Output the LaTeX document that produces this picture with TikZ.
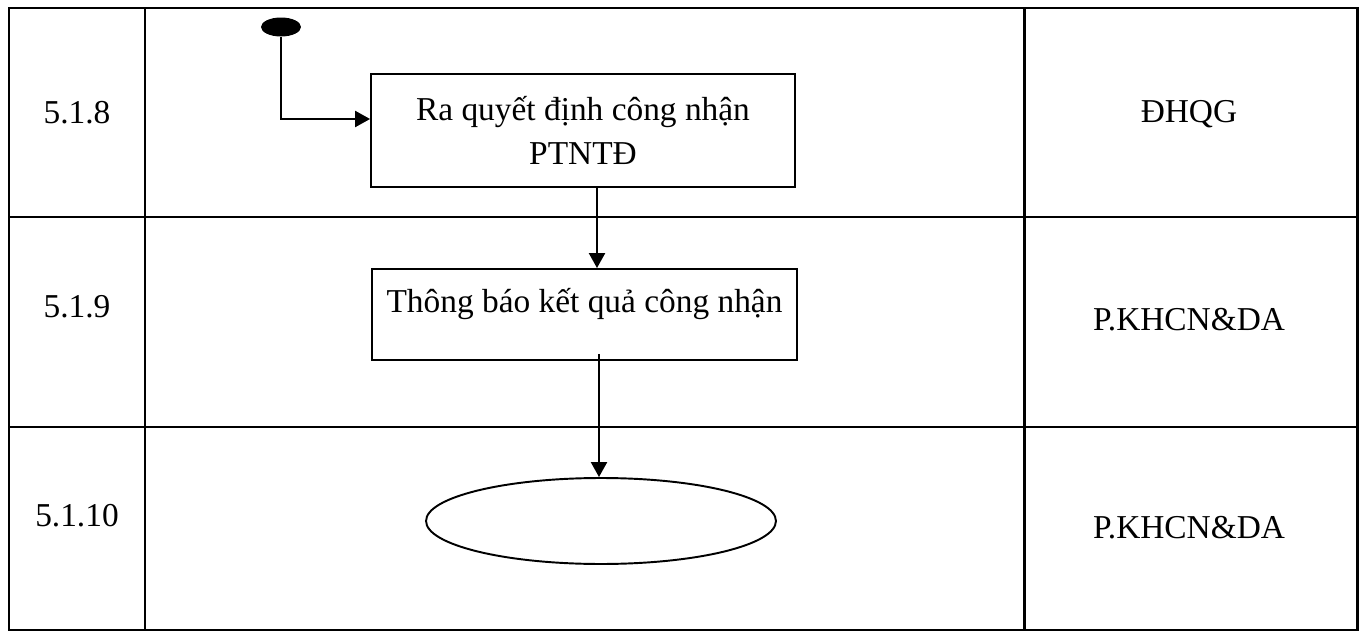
\documentclass[tikz,border=0pt]{standalone}
\usepackage{fontspec}
\setmainfont{Liberation Serif}
\usetikzlibrary{shapes.geometric,arrows.meta,calc}

\begin{document}
\begin{tikzpicture}[x=0.02cm,y=-0.02cm,
    grid/.style={line width=1.7pt},
    lbl/.style={font=\fontsize{19}{25}\selectfont,anchor=base},
    stepbox/.style={draw,line width=1.1pt,inner sep=0pt,font=\fontsize{19}{25}\selectfont},
    arr/.style={line width=1.3pt,-{Triangle[length=0.3cm,width=0.32cm]}}]
  \useasboundingbox (0,0) rectangle (1367,632);

  \draw[grid] (9,8) rectangle (1357,630);
  \draw[grid] (145,8) -- (145,630);
  \draw[grid] (1024,8) -- (1024,630);
  \draw[grid] (9,217) -- (1357,217);
  \draw[grid] (9,427) -- (1357,427);

  \node[lbl] (step8) at (77,123) {5.1.8};
  \node[lbl] (step9) at (77,317) {5.1.9};
  \node[lbl] (step10) at (77,526) {5.1.10};
  \node[lbl] (unit8) at (1189,122) {ĐHQG};
  \node[lbl] (unit9) at (1189,330) {P.KHCN\&DA};
  \node[lbl] (unit10) at (1189,538) {P.KHCN\&DA};

  \node[ellipse,fill=black,minimum width=0.8cm,minimum height=0.38cm,inner sep=0pt] (start) at (281,27) {};
  \node[stepbox,align=center,minimum width=8.48cm,minimum height=2.26cm] (decide) at (583,130.5)
    {Ra quyết định công nhận\\PTNTĐ};
  \node[stepbox,minimum width=8.5cm,text height=0.86cm,text depth=0.96cm] (notify) at (584.5,314.5)
    {Thông báo kết quả công nhận};
  \node[ellipse,draw,line width=1.1pt,minimum width=7cm,minimum height=1.72cm,inner sep=0pt] (stop) at (601,521) {};

  \coordinate (c1) at (597,0);
  \coordinate (c2) at (599,0);
  \draw[arr] (start.south) |- ($(decide.west)+(0,-11.5)$);
  \draw[arr] (decide.south -| c1) -- (notify.north -| c1);
  \draw[arr] ($(notify.south -| c2)+(0,-7)$) -- (stop.north -| c2);
\end{tikzpicture}
\end{document}
